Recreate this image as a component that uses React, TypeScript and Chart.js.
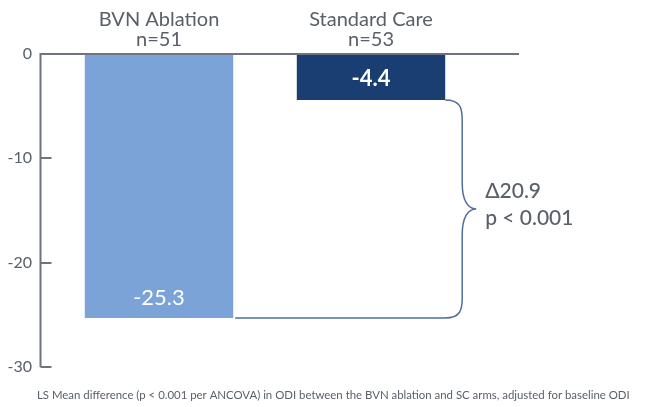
import React, { useEffect, useRef } from "react";
import { Chart, registerables } from "chart.js";

Chart.register(...registerables);

const categories = ["BVN Ablation", "Standard Care"];
const sampleSizes = ["n=51", "n=53"];
const lsMeanChange = [-25.3, -4.4];
const barColors = ["#7BA3D7", "#1B3E72"];
const yTicks = [0, -10, -20, -30];
const pValueText = "p < 0.001";
const footnote =
  "LS Mean difference (p < 0.001 per ANCOVA) in ODI between the BVN ablation and SC arms, adjusted for baseline ODI";

const FONT = "Lato, 'Open Sans', sans-serif";
const GRAY = "#5a6068";
const AXIS = "#6e747b";
const BRACE = "#506d99";

const overlay = {
  id: "overlay",
  afterDatasetsDraw(chart: any) {
    const { ctx, chartArea } = chart;
    const ys = chart.scales.y;
    const meta = chart.getDatasetMeta(0);
    const y0 = ys.getPixelForValue(0);
    const yMin = ys.getPixelForValue(Math.min(...yTicks));
    const axisX = chartArea.left - 12.5;

    ctx.save();
    // axes
    ctx.strokeStyle = AXIS;
    ctx.lineWidth = 2;
    ctx.beginPath();
    ctx.moveTo(axisX, yMin);
    ctx.lineTo(axisX, y0);
    ctx.lineTo(chartArea.right + 42, y0);
    ctx.stroke();
    ctx.beginPath();
    yTicks.forEach((v) => {
      if (v === 0) return;
      const py = Math.round(ys.getPixelForValue(v));
      ctx.moveTo(axisX, py);
      ctx.lineTo(axisX + 11, py);
    });
    ctx.stroke();

    // value labels
    ctx.fillStyle = "#ffffff";
    ctx.textAlign = "center";
    ctx.textBaseline = "middle";
    meta.data.forEach((el: any, i: number) => {
      const h = Math.abs(el.y - el.base);
      const ty = h > 100 ? el.y - 20 : (el.y + el.base) / 2 + 2;
      ctx.font = `${h > 100 ? 400 : 700} 22px ${FONT}`;
      ctx.fillText(lsMeanChange[i].toFixed(1), el.x, ty);
    });

    // brace
    const a = meta.data[1] as any;
    const b = meta.data[0] as any;
    const sx = a.x + a.width / 2;
    const yA = a.y;
    const yB = b.y;
    const bx = sx + 17;
    const tip = sx + 31;
    const mid = (yA + yB) / 2;
    ctx.strokeStyle = BRACE;
    ctx.lineWidth = 1.5;
    ctx.beginPath();
    ctx.moveTo(sx, yA);
    ctx.bezierCurveTo(bx - 2, yA, bx, yA + 8, bx, yA + 20);
    ctx.lineTo(bx, mid - 26);
    ctx.bezierCurveTo(bx, mid - 8, tip - 8, mid, tip, mid);
    ctx.bezierCurveTo(tip - 8, mid, bx, mid + 8, bx, mid + 26);
    ctx.lineTo(bx, yB - 20);
    ctx.bezierCurveTo(bx, yB - 8, bx - 2, yB, sx, yB);
    ctx.lineTo(b.x + b.width / 2 + 2, yB);
    ctx.stroke();

    // delta text
    const delta = Math.abs(lsMeanChange[1] - lsMeanChange[0]);
    ctx.fillStyle = GRAY;
    ctx.textAlign = "left";
    ctx.textBaseline = "middle";
    ctx.font = `500 21px ${FONT}`;
    ctx.fillText("\u0394" + delta.toFixed(1), tip + 9, mid - 18);
    ctx.fillText(pValueText, tip + 9, mid + 9);

    // footnote
    ctx.font = `400 11.4px ${FONT}`;
    ctx.fillStyle = "#595f67";
    ctx.textAlign = "left";
    ctx.fillText(footnote, 37, chart.height - 12);
    ctx.restore();
  },
};

export default function App() {
  const ref = useRef<HTMLCanvasElement>(null);
  useEffect(() => {
    if (!ref.current) return;
    const chart = new Chart(ref.current, {
      type: "bar",
      data: {
        labels: categories.map((c, i) => [c, sampleSizes[i]]),
        datasets: [
          {
            data: lsMeanChange,
            backgroundColor: barColors,
            borderWidth: 0,
            barPercentage: 0.7,
            categoryPercentage: 1,
          },
        ],
      },
      options: {
        animation: false,
        responsive: true,
        maintainAspectRatio: false,
        layout: { padding: { top: 0, left: 0, right: 170, bottom: 40 } },
        plugins: { legend: { display: false }, tooltip: { enabled: false } },
        scales: {
          x: {
            position: "top",
            grid: { display: false, drawTicks: false },
            border: { display: false },
            ticks: {
              color: GRAY,
              font: { family: FONT, size: 20, lineHeight: 1.0 },
              padding: 4,
              maxRotation: 0,
            },
            afterFit: (s: any) => {
              s.height = 54;
            },
          },
          y: {
            min: -30,
            max: 0,
            grid: { display: false, drawTicks: false },
            border: { display: false },
            ticks: {
              stepSize: 10,
              color: GRAY,
              font: { family: FONT, size: 16 },
              padding: 21,
            },
            afterFit: (s: any) => {
              s.width = 53;
            },
          },
        },
      },
      plugins: [overlay],
    });
    return () => chart.destroy();
  }, []);
  return (
    <div style={{ position: "fixed", left: 0, top: 0, width: 647, height: 407, background: "#fff" }}>
      <canvas ref={ref} />
    </div>
  );
}
